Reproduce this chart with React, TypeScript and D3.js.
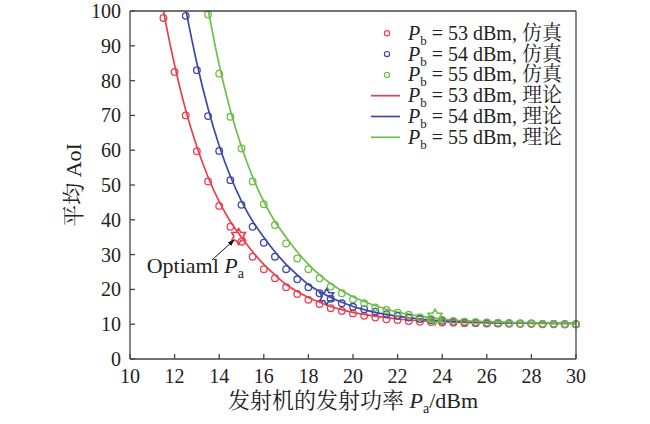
import React from 'react';
import * as d3 from 'd3';

// ---------- data ----------
const xTicks = [10, 12, 14, 16, 18, 20, 22, 24, 26, 28, 30];
const yTicks = [0, 10, 20, 30, 40, 50, 60, 70, 80, 90, 100];

// simulation Pa grid (dBm)
const simPa = [11.5, 12, 12.5, 13, 13.5, 14, 14.5, 15, 15.5, 16, 16.5, 17, 17.5, 18, 18.5, 19, 19.5, 20, 20.5, 21, 21.5, 22, 22.5, 23, 23.5, 24, 24.5, 25, 25.5, 26, 26.5, 27, 27.5, 28, 28.5, 29, 29.5, 30];
// theory Pa grid (dBm)
const thPa = [11, 11.5, 12, 12.5, 13, 13.5, 14, 14.5, 15, 15.5, 16, 16.5, 17, 17.5, 18, 18.5, 19, 19.5, 20, 20.5, 21, 21.5, 22, 22.5, 23, 23.5, 24, 24.5, 25, 25.5, 26, 26.5, 27, 27.5, 28, 28.5, 29, 29.5, 30];

// simulation AoI
const sim53 = [98, 82.5, 70, 59.7, 51, 44, 38, 33.7, 29.4, 25.8, 23.2, 20.6, 18.7, 17.0, 15.8, 14.6, 13.8, 13.1, 12.4, 11.9, 11.4, 11.2, 10.9, 10.7, 10.6, 10.5, 10.4, 10.3, 10.3, 10.2, 10.2, 10.1, 10.1, 10.1, 10.0, 10.0, 10.0, 10.0];
const sim54 = [98.6, 83, 69.8, 59.8, 51.4, 44.3, 38, 33.4, 29.4, 25.8, 22.9, 20.6, 18.9, 17.3, 16.0, 15.0, 14.3, 13.6, 12.9, 12.4, 11.9, 11.5, 11.2, 11.0, 10.8, 10.6, 10.5, 10.4, 10.3, 10.3, 10.2, 10.2, 10.1, 10.1, 10.0, 10.0];
const sim55 = [99, 82, 69.6, 60.5, 51, 44.5, 38.5, 33.2, 28.9, 25.8, 23.2, 20.8, 18.9, 17.2, 16.0, 14.8, 14.1, 13.3, 12.7, 12.0, 11.5, 11.2, 10.9, 10.7, 10.6, 10.5, 10.4, 10.3, 10.2, 10.2, 10.1, 10.1, 10.0, 10.0];

// theoretical AoI
const th53 = [118, 100, 84.5, 71.5, 61, 52.3, 45.2, 39.5, 35, 30.8, 27.2, 24.2, 21.4, 19.4, 17.7, 16.3, 15.1, 14.2, 13.4, 12.8, 12.3, 11.9, 11.5, 11.2, 11.0, 10.85, 10.7, 10.6, 10.5, 10.45, 10.4, 10.35, 10.3, 10.3, 10.25, 10.25, 10.2, 10.2, 10.2];
const th54 = [118, 100.5, 85, 72, 61.3, 52.5, 45.4, 39.6, 35, 30.8, 27.2, 24.2, 21.4, 19.4, 17.7, 16.3, 15.1, 14.2, 13.4, 12.8, 12.3, 11.9, 11.5, 11.2, 11.0, 10.85, 10.7, 10.6, 10.5, 10.45, 10.4, 10.35, 10.3, 10.3, 10.25, 10.25, 10.2];
const th55 = [118, 100.5, 84.5, 71.5, 61, 52.3, 45.2, 39.5, 35, 30.8, 27.2, 24.2, 21.7, 19.6, 17.9, 16.5, 15.3, 14.3, 13.5, 12.8, 12.3, 11.9, 11.5, 11.2, 11.0, 10.85, 10.7, 10.6, 10.5, 10.45, 10.4, 10.35, 10.3, 10.3, 10.25];

// optimal points
const optPa = [14.87, 18.82, 23.68];
const optAoI = [35.2, 17.9, 12.0];

const pbLabels = ['53', '54', '55'];
const colors = ['#e8404e', '#3e49a6', '#6cbf48'];

// ---------- layout ----------
const W = 650;
const H = 424;
const L = 130, R = 576, T = 11, B = 359;
const FONT = "'Liberation Serif','Times New Roman','Noto Serif CJK SC','Noto Sans CJK SC',serif";
const CJK = "'Liberation Serif','Noto Serif CJK SC','Noto Sans CJK SC',serif";

function starPath(cx: number, cy: number, R0: number) {
  const r0 = R0 * 0.577;
  const pts: string[] = [];
  for (let i = 0; i < 12; i++) {
    const a = -Math.PI / 2 + (i * Math.PI) / 6;
    const rr = i % 2 === 0 ? R0 : r0;
    pts.push(`${cx + rr * Math.cos(a)},${cy + rr * Math.sin(a)}`);
  }
  return 'M' + pts.join('L') + 'Z';
}

export default function App() {
  const x = d3.scaleLinear().domain([10, 30]).range([L, R]);
  const y = d3.scaleLinear().domain([0, 100]).range([B, T]);

  const sims = [sim53, sim54, sim55];
  const ths = [th53, th54, th55];
  const simStart = [0, 2, 4];
  const thStart = [0, 2, 4];

  const line = d3
    .line<[number, number]>()
    .x((d) => x(d[0]))
    .y((d) => y(d[1]))
    .curve(d3.curveMonotoneX);

  const rowY = (i: number) => 33.3 + i * 20.8;

  const arrowStart = [212, 260];
  const starR = optPa.map((p, i) => [x(p), y(optAoI[i])]);

  return (
    <svg
      width={W}
      height={H}
      style={{ position: 'absolute', left: 0, top: 0, background: '#fff' }}
      fontFamily={FONT}
    >
      <defs>
        <clipPath id="plotClip">
          <rect x={L} y={T} width={R - L} height={B - T} />
        </clipPath>
        <marker id="arrowHead" viewBox="0 0 10 10" refX="10" refY="5" markerWidth="7" markerHeight="7" orient="auto">
          <path d="M0,1.5 L10,5 L0,8.5 Z" fill="#111" />
        </marker>
      </defs>

      {/* theory lines */}
      <g clipPath="url(#plotClip)">
        {ths.map((arr, s) => {
          const pts = arr.map((v, i) => [thPa[i + thStart[s]], v] as [number, number]);
          return <path key={s} d={line(pts) || ''} fill="none" stroke={colors[s]} strokeWidth={1.7} />;
        })}
      </g>

      {/* simulation markers */}
      {sims.map((arr, s) => (
        <g key={s}>
          {arr.map((v, i) => (
            <circle
              key={i}
              cx={x(simPa[i + simStart[s]])}
              cy={y(v)}
              r={3.3}
              fill="none"
              stroke={colors[s]}
              strokeWidth={1.3}
            />
          ))}
        </g>
      ))}

      {/* optimal stars */}
      {starR.map((p, i) => (
        <path key={i} d={starPath(p[0], p[1], 8)} fill="none" stroke={colors[i]} strokeWidth={1.6} />
      ))}

      {/* annotation */}
      <line
        x1={arrowStart[0]}
        y1={arrowStart[1]}
        x2={starR[0][0] - 4}
        y2={starR[0][1] + 3}
        stroke="#111"
        strokeWidth={1}
        markerEnd="url(#arrowHead)"
      />
      <text x={146.7} y={273} fontSize={22} fill="#222">
        Optiaml <tspan fontStyle="italic">P</tspan>
        <tspan fontSize={14} dy={5}>a</tspan>
      </text>

      {/* axes box */}
      <g stroke="#444" strokeWidth={1.3} fill="none">
        <line x1={L} y1={B} x2={R} y2={B} />
        <line x1={L} y1={T} x2={L} y2={B} />
        <line x1={L} y1={T} x2={R} y2={T} />
        <line x1={R} y1={T} x2={R} y2={B} />
        {xTicks.map((t) => (
          <line key={'xt' + t} x1={x(t)} x2={x(t)} y1={B} y2={B - 5} />
        ))}
        {yTicks.map((t) => (
          <line key={'yt' + t} x1={L} x2={L + 5} y1={y(t)} y2={y(t)} />
        ))}
      </g>

      {/* tick labels */}
      <g fontSize={20} fill="#222">
        {xTicks.map((t) => (
          <text key={'xl' + t} x={x(t)} y={383} textAnchor="middle">
            {t}
          </text>
        ))}
        {yTicks.map((t) => (
          <text key={'yl' + t} x={121} y={y(t) + 7} textAnchor="end">
            {t}
          </text>
        ))}
      </g>

      {/* axis titles */}
      <text x={353} y={408} fontSize={22} textAnchor="middle" fill="#222" fontFamily={CJK}>
        发射机的发射功率 <tspan fontStyle="italic">P</tspan>
        <tspan fontSize={14} dy={5}>a</tspan>
        <tspan dy={-5}>/dBm</tspan>
      </text>
      <text
        transform={`translate(81, ${(T + B) / 2}) rotate(-90)`}
        fontSize={22}
        textAnchor="middle"
        fill="#222"
        fontFamily={CJK}
      >
        平均 AoI
      </text>

      {/* legend */}
      <g fontSize={20} fill="#222" fontFamily={CJK}>
        {[0, 1, 2, 3, 4, 5].map((i) => {
          const s = i % 3;
          const isSim = i < 3;
          const yy = rowY(i);
          return (
            <g key={'lg' + i}>
              {isSim ? (
                <circle cx={387} cy={yy} r={2.6} fill="none" stroke={colors[s]} strokeWidth={1.2} />
              ) : (
                <line x1={371} x2={400} y1={yy} y2={yy} stroke={colors[s]} strokeWidth={1.7} />
              )}
              <text x={408} y={yy + 6.5}>
                <tspan fontStyle="italic">P</tspan>
                <tspan fontSize={13} dy={5}>b</tspan>
                <tspan dy={-5}>{` = ${pbLabels[s]} dBm, ${isSim ? '仿真' : '理论'}`}</tspan>
              </text>
            </g>
          );
        })}
      </g>
    </svg>
  );
}
